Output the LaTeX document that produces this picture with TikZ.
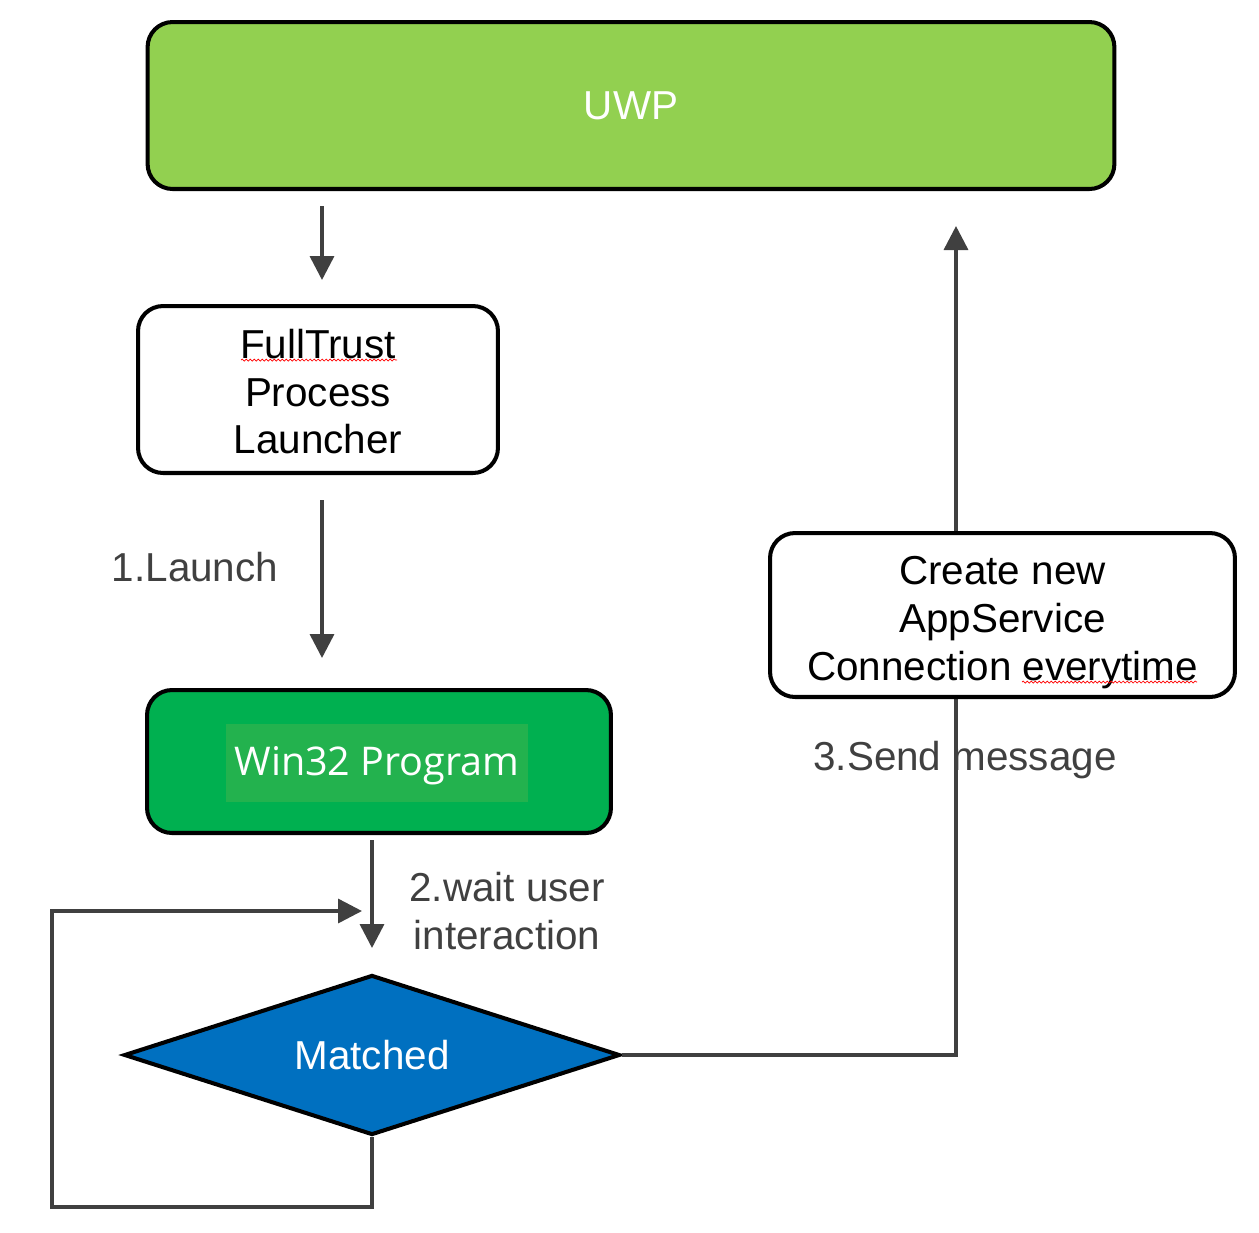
\documentclass[tikz,border=0pt]{standalone}
\usepackage{fontspec}
\setmainfont{Liberation Sans}
\newfontfamily\winfont{Open Sans}
\usepackage{tikz}
\usetikzlibrary{arrows.meta,shapes.geometric,decorations.pathmorphing}
\definecolor{uwpgreen}{HTML}{92D050}
\definecolor{wingreen}{HTML}{00B050}
\definecolor{winlabel}{HTML}{23B24E}
\definecolor{matchblue}{HTML}{0070C0}
\definecolor{linegray}{HTML}{404040}

\begin{document}
\begin{tikzpicture}[x=0.02cm,y=-0.02cm,
    box/.style={draw=black,line width=2.3pt,rounded corners=0.5cm,align=center,
      font=\fontsize{23}{27.3}\selectfont},
    flow/.style={draw=linegray,line width=2pt,-{Triangle[width=0.48cm,length=0.48cm]}},
    lbl/.style={text=linegray,align=center,font=\fontsize{23}{27.3}\selectfont},
    squiggle/.style={draw=red,line width=0.4pt,decorate,
      decoration={snake,amplitude=0.02cm,segment length=0.08cm}}]
    \useasboundingbox (0,0) rectangle (1259,1232);
    \node[box,fill=uwpgreen,text=white,minimum width=19.34cm,minimum height=3.34cm] (uwp) at (631,105.5) {UWP};
    \node[box,fill=white,minimum width=7.2cm,minimum height=3.34cm] (ftl) at (318,389.5) {\rule{0pt}{19pt}FullTrust\\Process\\Launcher};
    \node[box,fill=wingreen,minimum width=9.28cm,minimum height=2.86cm] (w32) at (379,761.5) {};
    \node[fill=winlabel,text=white,minimum width=6.04cm,minimum height=1.56cm,
      font=\winfont\fontsize{22.5}{27}\selectfont] (w32txt) at (377,763) {\rule{0pt}{20pt}Win32 Program};
    \node[diamond,aspect=3.1,draw=black,line width=2.3pt,fill=matchblue,text=white,inner sep=0pt,
      minimum width=9.92cm,minimum height=3.2cm,font=\fontsize{23}{27.3}\selectfont] (match) at (372,1055) {Matched};
    \node[lbl] (launch) at (195,567) {1.Launch};
    \node[lbl] (wait) at (507,911) {2.wait user\\interaction};
    \node[lbl] (send) at (965,760) {3.Send message};
    \coordinate (loopbl) at (52,1207);
    \coordinate (loopend) at (362,911);
    \coordinate (uwpin) at (956,226);
    \draw[flow,shorten <=0.3cm,shorten >=0.48cm] ([xshift=0.08cm]uwp.south -| ftl.north) -- ([xshift=0.08cm]ftl.north);
    \draw[flow,shorten <=0.5cm,shorten >=0.6cm] ([xshift=0.08cm]ftl.south) -- ([xshift=0.08cm]ftl.south |- w32.north);
    \draw[flow,shorten <=0.1cm,shorten >=0.5cm] (w32.south -| match.north) -- (match.north);
    \draw[flow] (match.south) |- (loopbl) |- (loopend);
    \draw[flow] (match.east) -| (uwpin);
    \node[box,fill=white,minimum width=9.3cm,minimum height=3.28cm] (asc) at (1002.5,615) {\rule{0pt}{25pt}Create new\\AppService\\Connection everytime};
    \draw[squiggle] (241,360) -- (397,360);
    \draw[squiggle] (1022,682) -- (1197,682);
  \end{tikzpicture}
\end{document}
